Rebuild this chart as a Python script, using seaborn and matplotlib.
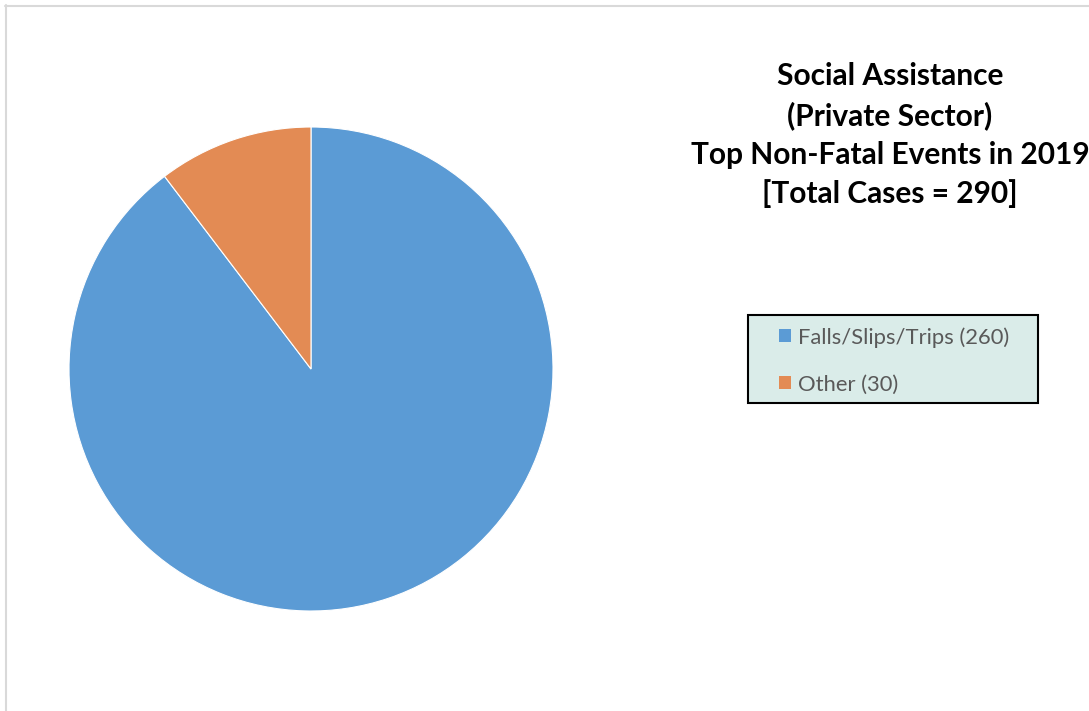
import matplotlib
matplotlib.use('Agg')
import matplotlib.pyplot as plt
import matplotlib.patches as mpatches
import matplotlib.lines as mlines
import seaborn as sns

# Datos del grafico
categorias = ['Falls/Slips/Trips', 'Other']
casos = [260, 30]
colores = ['#5B9BD5', '#E38B54']
titulo = ['Social Assistance', '(Private Sector)', 'Top Non-Fatal Events in 2019', '[Total Cases = 290]']

sns.set_theme(style='white')
plt.rcParams['font.family'] = ['Lato', 'DejaVu Sans']

fig = plt.figure(figsize=(10.89, 7.11), dpi=100)
W, H = 1089, 711

# Ejes del pie ubicados en pixeles
ax = fig.add_axes([69 / W, 1 - 611 / H, 484 / W, 484 / H])
wedges, _ = ax.pie(casos, colors=colores, startangle=90, counterclock=False,
                   wedgeprops=dict(edgecolor='white', linewidth=0.8))
ax.set_xlim(-1, 1)
ax.set_ylim(-1, 1)
ax.set_aspect('equal')
ax.axis('off')

# Titulo a la derecha
fig.text(890 / W, 1 - 62 / H, '\n'.join(titulo), ha='center', va='top',
         fontsize=21.5, fontweight='bold', color='black', linespacing=1.46,
         multialignment='center')

# Caja de la leyenda (dibujada a mano para controlar el padding)
fig.add_artist(mpatches.Rectangle((748 / W, 1 - 403 / H), 290 / W, 88 / H,
                                  transform=fig.transFigure, facecolor='#DAECE9',
                                  edgecolor='black', linewidth=1.5))

labels = [f'{c} ({v})' for c, v in zip(categorias, casos)]
handles = [mpatches.Patch(facecolor=col, edgecolor='none') for col in colores]
leg = fig.legend(handles, labels, loc='upper left', bbox_to_anchor=(779 / W, 1 - 327 / H),
                 fontsize=15.8, frameon=False, handlelength=0.55, handleheight=0.55,
                 handletextpad=0.33, labelspacing=1.22, borderpad=0, borderaxespad=0,
                 labelcolor='#595959')

# Borde gris del area del grafico
fig.add_artist(mlines.Line2D([5.5 / W, 5.5 / W], [0, 1 - 5 / H], color='#D9D9D9', lw=1.5))
fig.add_artist(mlines.Line2D([5 / W, 1], [1 - 5.5 / H, 1 - 5.5 / H], color='#D9D9D9', lw=1.5))

fig.savefig('out.png', dpi=100, facecolor='white')
